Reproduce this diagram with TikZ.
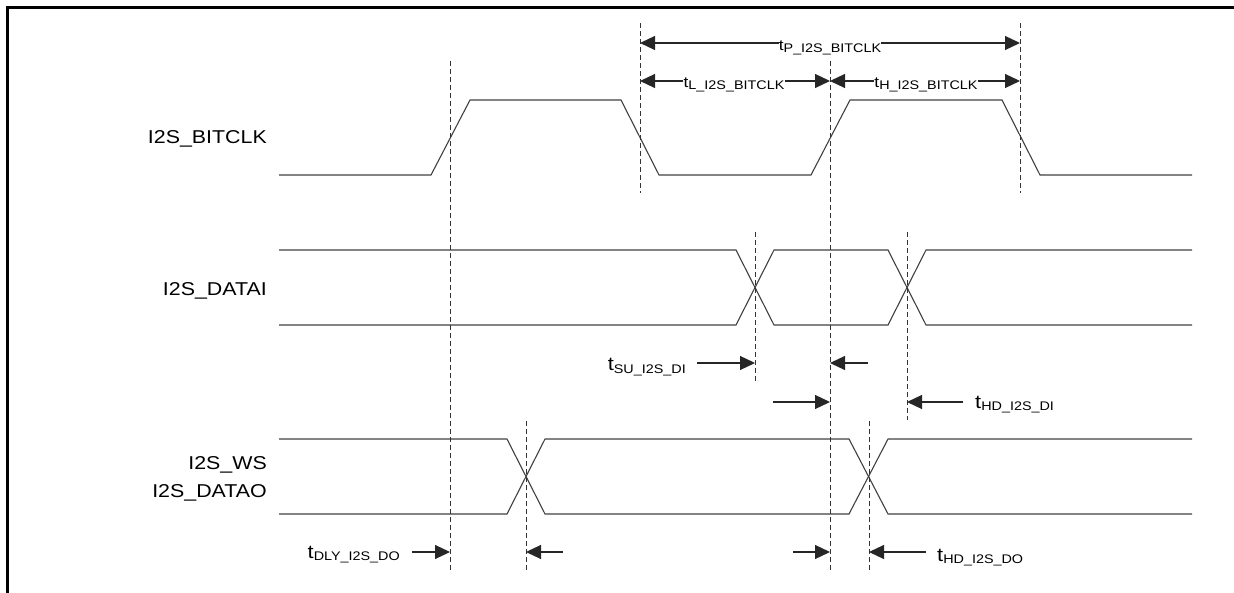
\documentclass[tikz,border=0pt]{standalone}
\usepackage{fontspec}
\setmainfont{Liberation Sans}[FakeStretch=1.15]
\usetikzlibrary{arrows.meta}

\newcommand{\tparam}[2]{{\fontsize{#1}{#1}\selectfont t}\raisebox{-2pt}{\fontsize{12.5}{12.5}\selectfont #2}}

\tikzset{
  sig/.style={draw=black!75, line width=1.1pt},
  guide/.style={draw=black!80, line width=0.9pt, dash pattern=on 5pt off 3pt},
  dim/.style={draw=black!85, line width=1.2pt, ->},
  sname/.style={inner sep=0pt, anchor=base east, font=\fontsize{18.6}{28}\selectfont},
  tlab/.style={inner sep=0pt, anchor=base},
}

\begin{document}
\begin{tikzpicture}[x=1pt, y=-1pt, >={Triangle[length=15pt,width=14pt]}]
  \useasboundingbox (0,0) rectangle (1234,593);
  \draw[line width=3pt] (7,593) -- (7,8) -- (1234,8);

  \node[sname] (bclk) at (267,144) {I2S\_BITCLK};
  \node[sname] (dai) at (267,296) {I2S\_DATAI};
  \node[sname] (ws) at (267,469) {I2S\_WS};
  \node[sname] (dao) at (267,497) {I2S\_DATAO};

  \draw[sig] (279,175) -- (431,175) -- (470,100) -- (621,100) -- (659,175) -- (811,175)
    -- (850,100) -- (1002,100) -- (1040,175) -- (1192,175);
  \foreach \a/\b in {250/325, 325/250}
    \draw[sig] (279,\a) -- (736,\a) -- (774,\b) -- (888,\b) -- (926,\a) -- (1192,\a);
  \foreach \a/\b in {439/514, 514/439}
    \draw[sig] (279,\a) -- (507,\a) -- (545,\b) -- (849,\b) -- (888,\a) -- (1192,\a);

  \foreach \n/\x/\ya/\yb in {g1/450/61/570, g2/640/23/193, g3/830/61/570, g4/1020/23/193,
      g5/755/232/383, g6/907/232/420, g7/526/421/570, g8/869/421/570}
    \draw[guide] (\x,\ya) coordinate (\n) -- (\x,\yb);

  \node[tlab] (tp) at (830,51) {\tparam{15}{P\_I2S\_BITCLK}};
  \node[tlab] (tl) at (734,88) {\tparam{15}{L\_I2S\_BITCLK}};
  \node[tlab] (th) at (926,88) {\tparam{15}{H\_I2S\_BITCLK}};
  \draw[dim] (tp.west |- 0,43) -- (g2 |- 0,43);
  \draw[dim] (tp.east |- 0,43) -- (g4 |- 0,43);
  \draw[dim] (tl.west |- 0,81) -- (g2 |- 0,81);
  \draw[dim] (tl.east |- 0,81) -- (g3 |- 0,81);
  \draw[dim] (th.west |- 0,81) -- (g3 |- 0,81);
  \draw[dim] (th.east |- 0,81) -- (g4 |- 0,81);

  \node[tlab, anchor=base east] (tsu) at (686,371) {\tparam{19}{SU\_I2S\_DI}};
  \node[tlab, anchor=base west] (thdi) at (975,408) {\tparam{19}{HD\_I2S\_DI}};
  \node[tlab, anchor=base east] (tdly) at (400,558) {\tparam{19}{DLY\_I2S\_DO}};
  \node[tlab, anchor=base west] (thdo) at (937,561) {\tparam{19}{HD\_I2S\_DO}};

  \foreach \n/\x/\y/\t in {a1/697/363/g5, a2/868/363/g3, a3/773/402/g3, a4/963/402/g6,
      a5/412/552/g1, a6/563/552/g7, a7/793/552/g3, a8/926/552/g8}
    \draw[dim] (\x,\y) coordinate (\n) -- (\n -| \t);
\end{tikzpicture}
\end{document}
